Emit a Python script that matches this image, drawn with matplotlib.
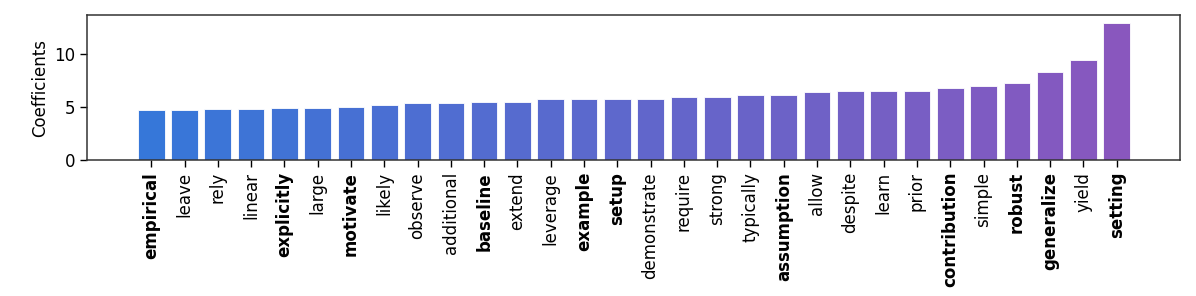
import numpy as np
import matplotlib.pyplot as plt
from matplotlib.colors import LinearSegmentedColormap

words = ['empirical', 'leave', 'rely', 'linear', 'explicitly', 'large', 'motivate',
         'likely', 'observe', 'additional', 'baseline', 'extend', 'leverage', 'example',
         'setup', 'demonstrate', 'require', 'strong', 'typically', 'assumption', 'allow',
         'despite', 'learn', 'prior', 'contribution', 'simple', 'robust', 'generalize',
         'yield', 'setting']
coefs = [4.70, 4.73, 4.80, 4.80, 4.89, 4.95, 5.05, 5.24, 5.42, 5.42,
         5.45, 5.45, 5.77, 5.77, 5.77, 5.80, 5.92, 5.96, 6.11, 6.18,
         6.43, 6.55, 6.55, 6.55, 6.80, 6.99, 7.24, 8.34, 9.44, 12.98]
bold_words = ['empirical', 'explicitly', 'motivate', 'baseline', 'example', 'setup',
              'assumption', 'contribution', 'robust', 'generalize', 'setting']

cmap = LinearSegmentedColormap.from_list('bp', ['#3677d9', '#8957be'])
colors = cmap(np.linspace(0, 1, len(words)))

fig = plt.figure(figsize=(11.96, 2.96), dpi=100)
ax = fig.add_axes([0.073, 0.459, 0.9136, 0.49])
x = np.arange(len(words))
ax.bar(x, coefs, width=0.8, color=colors, edgecolor='#ffffff', linewidth=0.6)
ax.set_xticks(x)
ax.set_xticklabels(words, rotation=90, fontsize=12)
for lab in ax.get_xticklabels():
    if lab.get_text() in bold_words:
        lab.set_fontweight('bold')
ax.set_xlim(-1.92, 30.9)
ax.set_ylim(0, 13.7)
ax.set_yticks([0, 5, 10])
ax.tick_params(axis='y', labelsize=12)
ax.tick_params(width=1.0, length=5)
ax.set_ylabel('Coefficients', fontsize=12)
for s in ax.spines.values():
    s.set_linewidth(1.1)
    s.set_color('#333333')

fig.savefig('out.png', dpi=100)
